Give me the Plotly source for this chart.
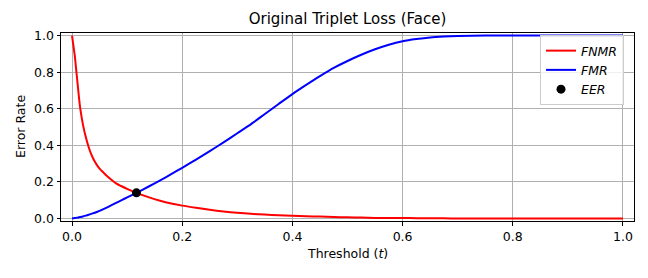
import plotly.graph_objects as go

# Data
threshold = [0.0, 0.0025, 0.005, 0.0075, 0.01, 0.0125, 0.015,
             0.02, 0.025, 0.03, 0.035, 0.04, 0.045, 0.05,
             0.058, 0.065, 0.08, 0.09, 0.1,
             0.117, 0.14, 0.16, 0.18, 0.2,
             0.225, 0.25, 0.275, 0.3, 0.325, 0.35, 0.375, 0.4,
             0.425, 0.45, 0.475, 0.5, 0.525, 0.55, 0.575, 0.6,
             0.625, 0.65, 0.675, 0.7, 0.75, 0.8, 0.9, 1.0]
fnmr = [1.0, 0.945, 0.89, 0.815, 0.74, 0.665, 0.60,
        0.51, 0.445, 0.392, 0.35, 0.318, 0.293, 0.272,
        0.248, 0.228, 0.192, 0.176, 0.162,
        0.14, 0.115, 0.097, 0.082, 0.07,
        0.058, 0.047, 0.038, 0.031, 0.025, 0.021, 0.018, 0.015,
        0.012, 0.01, 0.008, 0.006, 0.0045, 0.003, 0.0025, 0.002,
        0.0015, 0.001, 0.0005, 0.0, 0.0, 0.0, 0.0, 0.0]
fmr = [0.0, 0.0008, 0.0018, 0.003, 0.0045, 0.006, 0.0075,
       0.011, 0.0155, 0.02, 0.025, 0.03, 0.0355, 0.041,
       0.052, 0.062, 0.085, 0.1, 0.115,
       0.14, 0.176, 0.208, 0.242, 0.277,
       0.322, 0.368, 0.416, 0.466, 0.516, 0.571, 0.626, 0.68,
       0.73, 0.778, 0.823, 0.861, 0.895, 0.925, 0.95, 0.969,
       0.981, 0.99, 0.995, 0.998, 1.0, 1.0, 1.0, 1.0]
eer_t = [0.117]
eer_v = [0.14]

xticks = [0.0, 0.2, 0.4, 0.6, 0.8, 1.0]
yticks = [0.0, 0.2, 0.4, 0.6, 0.8, 1.0]

FONT = "DejaVu Sans"

fig = go.Figure()
fig.add_trace(go.Scatter(x=threshold, y=fnmr, mode="lines", name="<i>FNMR</i>",
                         line=dict(color="#ff0000", width=2, shape="spline", smoothing=0.6)))
fig.add_trace(go.Scatter(x=threshold, y=fmr, mode="lines", name="<i>FMR</i>",
                         line=dict(color="#0000ff", width=2, shape="spline", smoothing=0.6)))
fig.add_trace(go.Scatter(x=eer_t, y=eer_v, mode="markers", name="<i>EER</i>",
                         marker=dict(color="black", size=9)))

axis_common = dict(
    showline=True, mirror=True, linecolor="black", linewidth=1,
    ticks="outside", ticklen=3.5, tickwidth=1, tickcolor="black",
    showgrid=True, gridcolor="#b0b0b0", gridwidth=1, zeroline=False,
    tickfont=dict(family=FONT, size=12.5, color="black"), tickformat=".1f",
)

fig.update_layout(
    width=648, height=278,
    margin=dict(l=61, r=14, t=33, b=57),
    paper_bgcolor="white", plot_bgcolor="white",
    font=dict(family=FONT, size=12.5, color="black"),
    title=dict(text="Original Triplet Loss (Face)", x=0.5, xref="paper",
               y=1 - 19 / 278, yref="container", yanchor="middle", xanchor="center",
               font=dict(family=FONT, size=15, color="black")),
    xaxis=dict(range=[-0.02, 1.02], tickvals=xticks, **axis_common),
    yaxis=dict(range=[-0.014, 1.014], tickvals=yticks, **axis_common),
    legend=dict(x=(540 - 61) / 573, y=(221 - 35) / 188, xanchor="left", yanchor="top",
                bgcolor="rgba(255,255,255,0.8)", bordercolor="#cccccc", borderwidth=1,
                font=dict(family=FONT, size=12.5, color="black"), tracegroupgap=0),
    showlegend=True,
    annotations=[
        dict(text="Error Rate", xref="paper", yref="paper", x=(20 - 61) / 573, y=0.5,
             textangle=-90, showarrow=False, xanchor="center", yanchor="middle",
             font=dict(family=FONT, size=12.5, color="black")),
        dict(text="Threshold (<i>t</i>)", xref="paper", yref="paper", x=0.5,
             y=(221 - 253) / 188, showarrow=False, xanchor="center", yanchor="middle",
             font=dict(family=FONT, size=12.5, color="black")),
    ],
)

fig.write_html("out.html", config={"displayModeBar": False},
               post_script="document.body.style.margin='0';")
